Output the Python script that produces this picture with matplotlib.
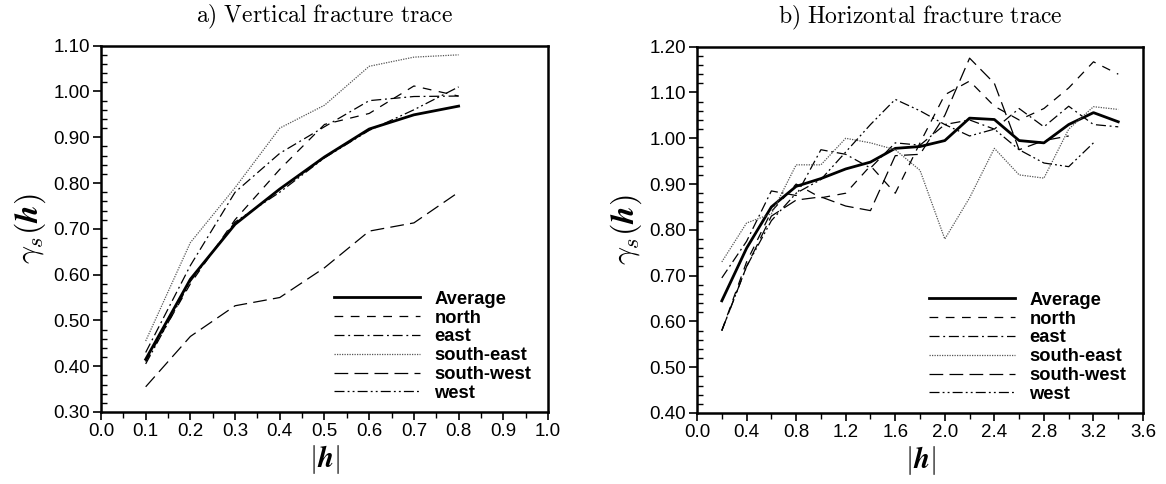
import matplotlib
matplotlib.use("Agg")
import matplotlib.pyplot as plt
from matplotlib.ticker import MultipleLocator, FormatStrFormatter

plt.rcParams["font.family"] = ["Liberation Sans", "DejaVu Sans"]
plt.rcParams["mathtext.fontset"] = "cm"

# a) vertical fracture trace
lag_v = [0.1, 0.2, 0.3, 0.4, 0.5, 0.6, 0.7, 0.8]
avg_v = [0.415, 0.59, 0.71, 0.787, 0.857, 0.918, 0.949, 0.968]
north_v = [0.41, 0.58, 0.72, 0.83, 0.928, 0.952, 1.012, 0.99]
east_v = [0.43, 0.62, 0.78, 0.865, 0.923, 0.98, 0.989, 0.99]
south_east_v = [0.455, 0.67, 0.79, 0.92, 0.97, 1.055, 1.075, 1.08]
south_west_v = [0.355, 0.465, 0.532, 0.55, 0.615, 0.695, 0.713, 0.78]
west_v = [0.405, 0.585, 0.715, 0.78, 0.855, 0.915, 0.96, 1.01]

# b) horizontal fracture trace
lag_h = [0.2, 0.4, 0.6, 0.8, 1.0, 1.2, 1.4, 1.6, 1.8, 2.0, 2.2, 2.4, 2.6, 2.8, 3.0, 3.2, 3.4]
avg_h = [0.645, 0.76, 0.85, 0.895, 0.912, 0.933, 0.948, 0.978, 0.982, 0.995,
         1.044, 1.041, 0.995, 0.99, 1.03, 1.056, 1.036]
north_h = [0.58, 0.73, 0.84, 0.90, 0.87, 0.88, 0.94, 0.88, 0.99, 1.095,
           1.125, 1.07, 1.04, 1.065, 1.11, 1.167, 1.14]
east_h = [0.695, 0.775, 0.885, 0.875, 0.975, 0.965, 0.935, 0.99, 0.985, 1.03,
          1.04, 1.02, 1.065, 1.025, 1.07, 1.03, 1.025]
south_east_h = [0.73, 0.815, 0.835, 0.942, 0.942, 1.00, 0.99, 0.975, 0.93, 0.78,
                0.87, 0.978, 0.92, 0.913, 1.02, 1.069, 1.063]
south_west_h = [0.58, 0.72, 0.83, 0.865, 0.872, 0.852, 0.842, 0.962, 0.965, 1.05,
                1.175, 1.12, 0.975, 0.995, 1.005]
west_h = [0.58, 0.72, 0.82, 0.88, 0.91, 0.97, 1.03, 1.085, 1.06, 1.03,
          1.005, 1.02, 0.975, 0.946, 0.938, 0.99]

names = ["Average", "north", "east", "south-east", "south-west", "west"]
styles = [
    dict(color="black", lw=2.0, ls="-"),
    dict(color="black", lw=0.9, ls=(0, (7, 6))),
    dict(color="black", lw=0.9, ls=(0, (8, 3, 1.5, 3))),
    dict(color="#555555", lw=0.9, ls=(0, (1, 1))),
    dict(color="black", lw=0.9, ls=(0, (11, 5))),
    dict(color="black", lw=0.9, ls=(0, (8, 2.5, 1.5, 2.5, 1.5, 2.5))),
]

fig = plt.figure(figsize=(11.66, 4.84), dpi=100)
ax1 = fig.add_axes([0.0866, 0.1488, 0.3834, 0.7568])
ax2 = fig.add_axes([0.5978, 0.1467, 0.3825, 0.7568])

series_v = [avg_v, north_v, east_v, south_east_v, south_west_v, west_v]
series_h = [avg_h, north_h, east_h, south_east_h, south_west_h, west_h]

for name, st, y in zip(names, styles, series_v):
    ax1.plot(lag_v[:len(y)], y, label=name, **st)
for name, st, y in zip(names, styles, series_h):
    ax2.plot(lag_h[:len(y)], y, label=name, **st)

ax1.set_xlim(0.0, 1.0)
ax1.set_ylim(0.30, 1.10)
ax1.xaxis.set_major_locator(MultipleLocator(0.1))
ax1.xaxis.set_minor_locator(MultipleLocator(0.05))
ax1.set_title(r"$\mathrm{a)\ Vertical\ fracture\ trace}$", fontsize=17, pad=17)

ax2.set_xlim(0.0, 3.6)
ax2.set_ylim(0.40, 1.20)
ax2.xaxis.set_major_locator(MultipleLocator(0.4))
ax2.xaxis.set_minor_locator(MultipleLocator(0.2))
ax2.set_title(r"$\mathrm{b)\ Horizontal\ fracture\ trace}$", fontsize=17, pad=17)

for ax in (ax1, ax2):
    ax.yaxis.set_major_locator(MultipleLocator(0.1))
    ax.yaxis.set_minor_locator(MultipleLocator(0.02))
    ax.xaxis.set_major_formatter(FormatStrFormatter("%.1f"))
    ax.yaxis.set_major_formatter(FormatStrFormatter("%.2f"))
    ax.tick_params(which="major", direction="out", length=6, width=1.2, labelsize=13.5, pad=2)
    ax.tick_params(axis="x", which="minor", direction="out", length=4, width=1.0)
    ax.tick_params(axis="y", which="minor", direction="in", length=4, width=1.0)
    for sp in ax.spines.values():
        sp.set_linewidth(1.8)
    ax.set_xlabel(r"$|\boldsymbol{h}|$", fontsize=21, labelpad=2)
    ax.set_ylabel(r"$\gamma_s(\boldsymbol{h})$", fontsize=23, labelpad=4)
    ax.legend(loc="lower right", bbox_to_anchor=(0.985, 0.0), frameon=False,
              handlelength=4.7, handletextpad=0.77, labelspacing=0.1,
              borderaxespad=0.15, prop=dict(weight="bold", size=13.2))

fig.savefig("out.png", dpi=100)
